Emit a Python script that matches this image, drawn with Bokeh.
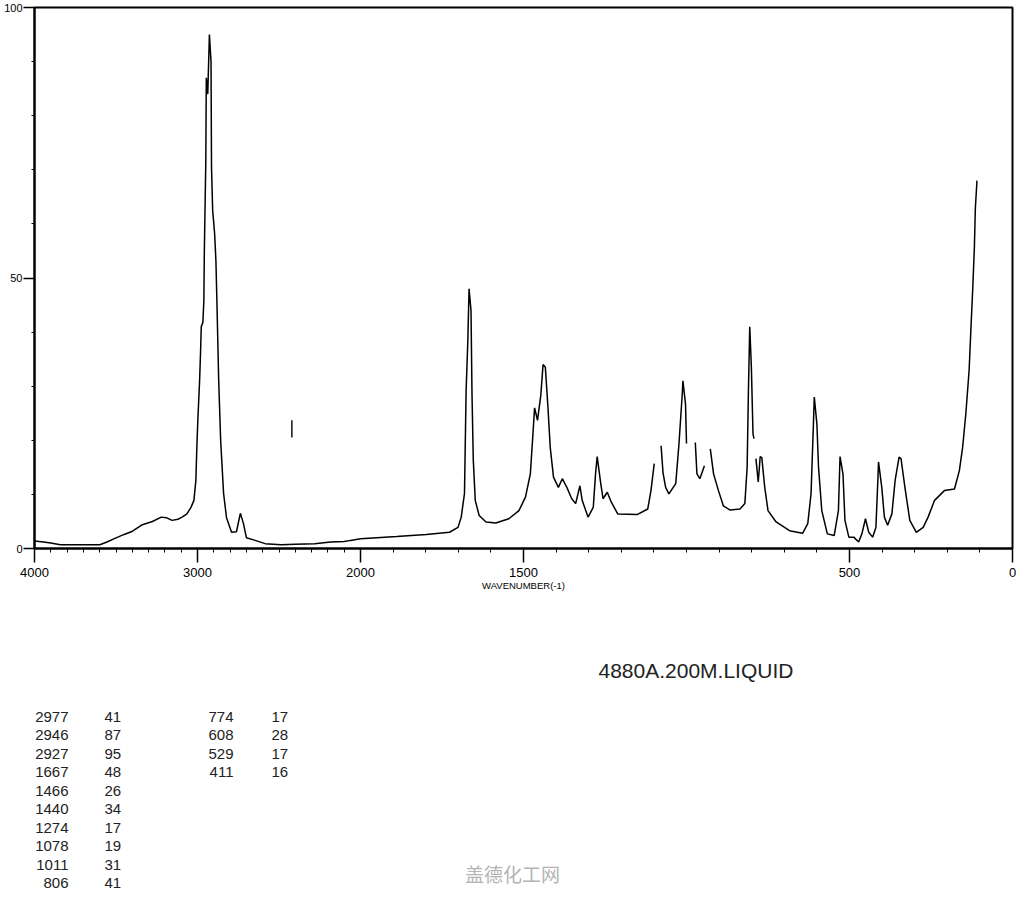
import numpy as np
from bokeh.plotting import figure
from bokeh.models import Range1d, FixedTicker, ColumnDataSource
from bokeh.layouts import column
from bokeh.core.properties import value
from bokeh.embed import file_html
from bokeh.resources import INLINE

NAN = float("nan")

# ---- Raman spectrum (wavenumber cm-1, intensity %); NAN marks a pen gap ----
wavenumber = [
    4000, 3945, 3900, 3842, 3700, 3599, 3556, 3496, 3450, 3399, 3338, 3277,
    3222, 3192, 3156, 3120, 3095, 3065, 3040, 3022, 3010, 3004, 2998, 2987,
    2980, 2977, 2967, 2961, 2958, 2949, 2946, 2937, 2927, 2917, 2914, 2907,
    2895, 2887, 2881, 2870, 2858, 2840, 2822, 2791, 2761, 2737, 2718, 2700,
    2646, 2585, 2488, 2400, 2281, 2184, 2100, 2061, 2000,
    1889, 1798, 1727, 1701, 1691, 1681, 1676, 1671, 1667, 1661, 1658, 1654,
    1648, 1636, 1615, 1585, 1545, 1514, 1494, 1479, 1471, 1466, 1457, 1447,
    1440, 1433, 1425, 1418, 1408, 1393, 1381, 1367, 1352, 1340, 1327, 1320,
    1302, 1286, 1279, 1274, 1263, 1256, 1243, 1231, 1211, 1150, 1119, 1109,
    1099, NAN, 1078, 1072, 1064, 1054, 1033, 1023, 1013, 1011, 1003, 1000,
    NAN, 973, 968, 959, 945, NAN, 927, 917, 902, 887, 866, 836, 821, 814,
    810, 806, 801, 796, 793, NAN, 787, 780, 777, 774, 769, 760, 750, 725,
    684, 644, 628, 618, 611, 608, 600, 595, 585, 568, 547, 534, 529, 520,
    514, 502, 487, 472, 462, 451, 441, 429, 419, 413, 411, 401, 393, 383,
    370, 360, 348, 342, 330, 315, 295, 274, 259, 239, 209, 178, 163, 153,
    143, 133, 128, 122, 117, 114, 109,
]
intensity = [
    1.4, 1.2, 1.0, 0.7, 0.7, 0.7, 1.2, 2.0, 2.6, 3.2, 4.4, 5.0,
    5.8, 5.7, 5.2, 5.4, 5.8, 6.4, 7.6, 8.9, 12.6, 18.7, 23.7, 31.1,
    37.5, 41.0, 41.8, 45.8, 55.1, 71.7, 87.0, 84.0, 95.0, 90.0, 70.4, 62.5,
    58.2, 53.2, 45.8, 31.1, 20.0, 10.2, 5.7, 3.0, 3.1, 6.5, 4.6, 2.0,
    1.5, 0.9, 0.7, 0.8, 0.9, 1.2, 1.3, 1.5, 1.8,
    2.2, 2.6, 3.0, 3.9, 5.8, 10.2, 29.2, 37.9, 48.0, 44.0, 28.6, 16.3,
    8.9, 6.1, 4.9, 4.7, 5.5, 7.0, 9.5, 13.8, 21.2, 26.0, 23.7, 28.3,
    34.0, 33.5, 26.1, 18.7, 13.2, 11.3, 12.9, 11.3, 9.2, 8.3, 11.6, 8.9,
    5.8, 7.6, 13.8, 17.0, 12.0, 9.2, 10.4, 8.6, 6.4, 6.3, 7.3, 10.7,
    15.7, NAN, 19.0, 14.0, 11.3, 10.1, 12.0, 19.4, 28.6, 31.0, 26.7, 19.4,
    NAN, 19.6, 13.8, 12.9, 15.3, NAN, 18.4, 13.8, 10.7, 7.9, 7.1, 7.3, 8.3, 15.0,
    29.2, 41.0, 33.5, 21.2, 20.3, NAN, 16.6, 12.3, 14.5, 17.0, 16.8, 11.3, 7.0, 4.9,
    3.3, 2.8, 4.6, 10.1, 22.4, 28.0, 23.0, 15.0, 7.0, 2.7, 2.4, 7.0, 17.0, 13.8,
    5.2, 2.1, 2.1, 1.2, 2.7, 5.5, 3.0, 2.1, 3.9, 12.6, 16.0, 11.3, 5.8, 4.3,
    6.4, 12.6, 16.9, 16.6, 11.3, 5.2, 3.0, 3.9, 5.8, 8.9, 10.7, 11.0, 14.4, 18.7,
    25.0, 33.0, 40.0, 48.0, 55.5, 62.8, 68.0,
]
# small stray pen mark on the chart
mark_wn = [2421, 2421]
mark_int = [20.5, 23.7]

# ---- axes ----
x_tick_labels = [4000, 3000, 2000, 1500, 500, 0]
y_tick_labels = [0, 50, 100]
x_label = "WAVENUMBER(-1)"

# ---- peak table ----
peak_wn = [2977, 2946, 2927, 1667, 1466, 1440, 1274, 1078, 1011, 806,
           774, 608, 529, 411]
peak_int = [41, 87, 95, 48, 26, 34, 17, 19, 31, 41, 17, 28, 17, 16]
sample_label = "4880A.200M.LIQUID"
watermark = "盖德化工网"


def axis_pos(wn):
    """Chart abscissa: 4000-2000 cm-1 is drawn at half scale."""
    wn = np.asarray(wn, dtype=float)
    return np.where(wn > 2000, 2000 + (wn - 2000) / 2.0, wn)


FONT_NAME = "Liberation Sans"
FONT = value(FONT_NAME)
W = 1016
LEFT, RIGHT = 34, 4
H1, H2 = 600, 292

p = figure(width=W, height=H1, x_range=Range1d(3000, 0),
           y_range=Range1d(0, 100), output_backend="svg",
           toolbar_location=None, min_border_left=LEFT, min_border_right=RIGHT,
           min_border_top=7, min_border_bottom=52)
p.grid.visible = False
p.outline_line_color = "black"
p.outline_line_width = 2
p.background_fill_color = "white"
p.border_fill_color = "white"

src = ColumnDataSource(dict(x=axis_pos(wavenumber), y=np.asarray(intensity, float)))
p.line("x", "y", source=src, line_color="black", line_width=1.5)
p.line(axis_pos(mark_wn), mark_int, line_color="black", line_width=1.4)

xa = p.xaxis[0]
xa.ticker = FixedTicker(ticks=[float(v) for v in axis_pos(x_tick_labels)],
                        minor_ticks=[float(v) for v in axis_pos(np.arange(0, 4001, 100))])
xa.major_label_overrides = {int(axis_pos(v)): str(v) for v in x_tick_labels}
xa.axis_line_width = 2
xa.axis_line_color = "black"
xa.major_tick_line_color = "black"
xa.minor_tick_line_color = "black"
xa.major_tick_line_width = 1.5
xa.major_tick_out = 14
xa.major_tick_in = 0
xa.minor_tick_out = 4
xa.minor_tick_in = 0
xa.major_label_standoff = 5
xa.major_label_text_font = FONT_NAME
xa.major_label_text_font_size = "13px"
xa.major_label_text_color = "black"
xa.axis_label = x_label
xa.axis_label_text_font = FONT_NAME
xa.axis_label_text_font_size = "9.5px"
xa.axis_label_text_font_style = "normal"
xa.axis_label_text_color = "black"
xa.axis_label_standoff = 0

ya = p.yaxis[0]
ya.ticker = FixedTicker(ticks=y_tick_labels, minor_ticks=list(range(0, 101, 10)))
ya.axis_line_width = 2
ya.axis_line_color = "black"
ya.major_tick_line_color = "black"
ya.minor_tick_line_color = "black"
ya.major_tick_line_width = 1.5
ya.major_tick_out = 11
ya.major_tick_in = 0
ya.minor_tick_out = 3
ya.minor_tick_in = 0
ya.major_label_standoff = 1
ya.major_label_text_font = FONT_NAME
ya.major_label_text_font_size = "11px"
ya.major_label_text_color = "black"

# ---- lower panel: sample label, peak table and watermark (canvas coordinates) ----
q = figure(width=W, height=H2, x_range=Range1d(LEFT, W - RIGHT),
           y_range=Range1d(H1 + H2, H1), output_backend="svg", toolbar_location=None,
           x_axis_type=None, y_axis_type=None, min_border=0,
           min_border_left=LEFT, min_border_right=RIGHT)
q.grid.visible = False
q.outline_line_color = None
q.background_fill_color = "white"
q.border_fill_color = "white"

q.text(x=[598], y=[670], text=[sample_label], text_font=FONT, text_font_size="21px",
       text_align="left", text_baseline="middle", text_color="#222222")

n_first = 10
row_y0, row_dy = 716, 18.5
rows = [i % n_first for i in range(len(peak_wn))]
cols = [i // n_first for i in range(len(peak_wn))]
wn_right = [68, 233]
int_left = [104, 271]
tbl = ColumnDataSource(dict(
    xw=[wn_right[c] for c in cols],
    xi=[int_left[c] for c in cols],
    y=[row_y0 + r * row_dy for r in rows],
    wn=[str(v) for v in peak_wn],
    it=[str(v) for v in peak_int],
))
q.text(x="xw", y="y", text="wn", source=tbl, text_font=FONT, text_font_size="15px",
       text_align="right", text_baseline="middle", text_color="#222222")
q.text(x="xi", y="y", text="it", source=tbl, text_font=FONT, text_font_size="15px",
       text_align="left", text_baseline="middle", text_color="#222222")

q.text(x=[512], y=[873], text=[watermark], text_font=value("Noto Sans CJK SC"),
       text_font_size="19px", text_align="center", text_baseline="middle",
       text_color="#b4b4b4")

layout = column(p, q, spacing=0)
open("out.html", "w").write(file_html(layout, INLINE))
